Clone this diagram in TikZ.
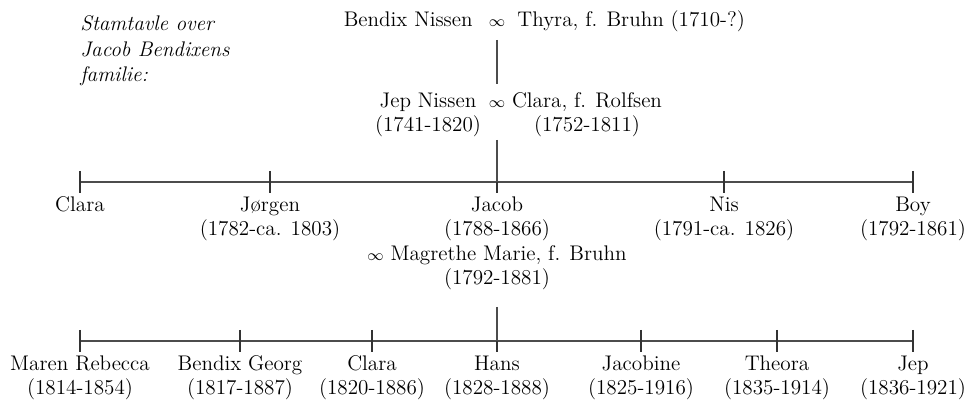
\documentclass[tikz,border=0pt]{standalone}
\usepackage{fontspec}
\usetikzlibrary{positioning,calc}
\newcommand{\wed}{{\fontsize{8.5}{10}\selectfont$\infty$}}
\begin{document}
\begin{tikzpicture}[x=0.52pt,y=-0.52pt]
        \tikzstyle{person}=[align=center,inner sep=0pt,anchor=base,font=\fontsize{11}{12.5}\selectfont]
        \tikzstyle{bar}=[draw=black!70,line width=0.8pt]
        \tikzstyle{tick}=[draw=black!80,line width=0.8pt]
        \useasboundingbox (0,0) rectangle (967,401);
        \node [person,anchor=base west,align=left,font=\fontsize{11}{13.5}\selectfont\itshape] (title) at (80,82) {Stamtavle over\\Jacob Bendixens\\familie:};
       % grandparents and parents
        \node [person,anchor=base east] (bendix) at (473,27) {Bendix Nissen};
        \node [person] (m1) at (497,27) {\wed};
        \node [person,anchor=base west] (thyra) at (517,27) {Thyra, f. Bruhn (1710-?)};
        \node [person] (jep) at (428,132) {Jep Nissen\\(1741-1820)};
        \node [person] (m2) at (497,108) {\wed};
        \node [person] (clara) at (587,132) {Clara, f. Rolfsen\\(1752-1811)};
        \path[bar] ($(m1.base)+(0,13)$) -- ($(m2.base)+(0,-24)$);
       % children of Jep Nissen
        \coordinate (bar1w) at (80,182);
        \coordinate (bar1e) at (913,182);
        \path[bar] (bar1w) -- (bar1e);
        \foreach \x/\who [count=\i] in {80/Clara\\{},270/Jørgen\\(1782-ca. 1803),497/Jacob\\(1788-1866),724/Nis\\(1791-ca. 1826),913/Boy\\(1792-1861)}
        {
          \node [person] (k\i) at (\x,236) {\who};
          \path[tick] ($(k\i.base)+(0,-65)$) -- ++(0,22);
        }
        \path[bar] ($(m2.base)+(0,32)$) -- ($(k3.base)+(0,-54)$);
        \node [person] (magrethe) at (497,285) {\wed{} Magrethe Marie, f. Bruhn\\(1792-1881)};
       % children of Jacob
        \coordinate (bar2w) at (80,341);
        \coordinate (bar2e) at (913,341);
        \path[bar] (bar2w) -- (bar2e);
        \foreach \x/\who [count=\i] in {80/Maren Rebecca\\(1814-1854),240/Bendix Georg\\(1817-1887),372/Clara\\(1820-1886),497/Hans\\(1828-1888),641/Jacobine\\(1825-1916),777/Theora\\(1835-1914),913/Jep\\(1836-1921)}
        {
          \node [person] (b\i) at (\x,395) {\who};
          \path[tick] ($(b\i.base)+(0,-65)$) -- ++(0,22);
        }
        \path[bar] ($(magrethe.base)+(0,22)$) -- ($(b4.base)+(0,-54)$);
      \end{tikzpicture}
\end{document}
